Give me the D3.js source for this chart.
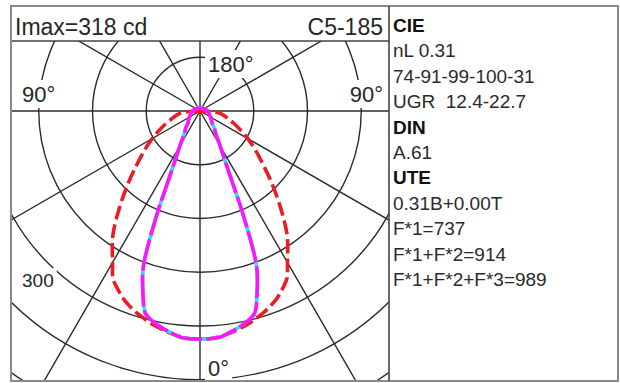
<!DOCTYPE html>
<html><head><meta charset="utf-8">
<script src="https://cdn.jsdelivr.net/npm/d3@7"></script>
<style>
html,body{margin:0;padding:0;background:#fff;}
svg{display:block;}
text{font-family:"Liberation Sans",Arial,Helvetica,sans-serif;}
</style>
</head><body>
<svg id="chart" width="620" height="383"></svg>
<script>
// ---- data ----
const gammas = [0,2.5,5,7.5,10,12.5,15,17.5,20,22.5,25,27.5,30,35,40,45,50,55,60,65,70,75,80,85,90,105,120,135,150,165,180];
const redValues = [318,318,316,313,309,305,300,295,289,282,273,263,244,212,174,141,114,94,77,62,50,40,33,25,0,0,0,0,0,0,0];
const magentaValues = [318,318,317,312,307,301,293,265,231,159,98,71,56,38,31,24,21,19,17,15,14,13,12,11,11,8,6,5,5,4,4];
const gridValues = [75,150,225,300,375,450];
const radialAngles = [30,60,90,120,150];
const headerLeft = "Imax=318 cd";
const headerRight = "C5-185";
const angleLabels = ["180°","90°","90°","0°"];
const intensityLabel = "300";
const infoLines = ["CIE","nL 0.31","74-91-99-100-31","UGR  12.4-22.7","DIN","A.61","UTE","0.31B+0.00T","F*1=737","F*1+F*2=914","F*1+F*2+F*3=989"];
const infoBold = [true,false,false,false,true,false,true,false,false,false,false];

// ---- layout ----
const svg = d3.select("#chart");
const cx = 200, cy = 111;
const plot = {x0: 12, y0: 41, x1: 389, y1: 380};
const rScale = d3.scaleLinear().domain([0, 300]).range([0, 215]);
const deg = Math.PI / 180;
const gridColor = "#2b2b2b";

svg.append("defs").append("clipPath").attr("id","plotClip")
  .append("rect").attr("x",plot.x0).attr("y",plot.y0)
  .attr("width",plot.x1-plot.x0).attr("height",plot.y1-plot.y0);

const grid = svg.append("g").attr("clip-path","url(#plotClip)")
  .append("g").attr("transform",`translate(${cx},${cy})`);

// circles
grid.selectAll("circle.grid").data(gridValues).enter().append("circle")
  .attr("class","grid").attr("r",d=>rScale(d))
  .attr("fill","none").attr("stroke",gridColor).attr("stroke-width",1.4);

// radial lines
const L = rScale(d3.max(gridValues)) + 200;
const radial = [];
radialAngles.forEach(a => { radial.push(a); radial.push(-a); });
grid.selectAll("line.rad").data(radial).enter().append("line")
  .attr("x1",0).attr("y1",0)
  .attr("x2",d=>L*Math.sin(d*deg)).attr("y2",d=>L*Math.cos(d*deg))
  .attr("stroke",gridColor).attr("stroke-width",1.4);
grid.append("line").attr("x1",0).attr("x2",0).attr("y1",-L).attr("y2",L)
  .attr("stroke",gridColor).attr("stroke-width",1.4);

// labels with white background
function label(txt, x, y, size, anchor){
  const g = svg.append("g");
  const t = g.append("text").attr("x",x).attr("y",y).attr("font-size",size)
    .attr("text-anchor",anchor||"start").attr("fill","#262626").text(txt);
  const b = t.node().getBBox();
  g.insert("rect","text").attr("x",b.x-3).attr("y",b.y-2)
    .attr("width",b.width+6).attr("height",b.height+3).attr("fill","#fff");
}
label(angleLabels[0], 208, 72, 22);
label(angleLabels[1], 22, 102, 22);
label(angleLabels[2], 383, 102, 22, "end");
label(angleLabels[3], 208, 376, 22);
label(intensityLabel, 22, 287, 19);

// curves
function polarPoints(values, trimZero){
  const pts = [];
  const n = gammas.length;
  const keep = i => !trimZero || values[i] > 0 || (i>0 && values[i-1] > 0);
  for (let i=n-1;i>=1;i--) if (keep(i)) pts.push({a: Math.PI + gammas[i]*deg, r: rScale(values[i])});
  for (let i=0;i<n;i++) if (keep(i)) pts.push({a: Math.PI - gammas[i]*deg, r: rScale(values[i])});
  return pts;
}
const radialLine = d3.lineRadial().angle(d=>d.a).radius(d=>d.r)
  .curve(d3.curveCatmullRom.alpha(0.5));
const curves = svg.append("g").attr("transform",`translate(${cx},${cy})`);
curves.append("path").attr("d",radialLine(polarPoints(redValues,true)))
  .attr("fill","none").attr("stroke","#ec1c24").attr("stroke-width",3.6)
  .attr("stroke-dasharray","14,5");
const magPath = radialLine(polarPoints(magentaValues,false));
curves.append("path").attr("d",magPath)
  .attr("fill","none").attr("stroke","#2ee0f0").attr("stroke-width",3.6);
curves.append("path").attr("d",magPath)
  .attr("fill","none").attr("stroke","#ff14ff").attr("stroke-width",3.6)
  .attr("stroke-dasharray","32,4").attr("stroke-linejoin","round");

// frame
svg.append("rect").attr("x",11).attr("y",6).attr("width",607).attr("height",375)
  .attr("fill","none").attr("stroke","#8a8a8a").attr("stroke-width",2);
svg.append("line").attr("x1",plot.x0).attr("x2",plot.x1).attr("y1",plot.y0).attr("y2",plot.y0)
  .attr("stroke","#444").attr("stroke-width",1.6);
svg.append("line").attr("x1",plot.x1).attr("x2",plot.x1).attr("y1",6).attr("y2",381)
  .attr("stroke","#444").attr("stroke-width",1.6);

// header
svg.append("text").attr("x",15).attr("y",35).attr("font-size",23).attr("fill","#262626").text(headerLeft);
svg.append("text").attr("x",383).attr("y",35).attr("font-size",23).attr("text-anchor","end").attr("fill","#262626").text(headerRight);

// info panel
svg.append("g").selectAll("text").data(infoLines).enter().append("text")
  .attr("x",393).attr("y",(d,i)=>32 + i*25.4)
  .attr("font-size",19)
  .attr("font-weight",(d,i)=>infoBold[i] ? "bold" : "normal")
  .attr("fill",(d,i)=>infoBold[i] ? "#111" : "#2a2a2a")
  .style("white-space","pre")
  .attr("xml:space","preserve")
  .text(d=>d);
</script>
</body></html>
